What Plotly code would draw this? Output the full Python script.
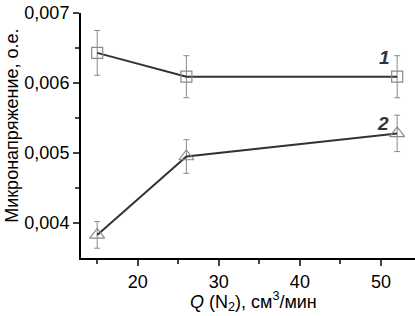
import plotly.graph_objects as go

q = [15, 26, 52]
s1 = [0.00643, 0.00609, 0.00609]
s1_err = [0.00032, 0.00030, 0.00030]
s2 = [0.00383, 0.00495, 0.00528]
s2_err = [0.00019, 0.00024, 0.00026]
labels = ["1", "2"]
label_x = [50.4, 50.2]
label_y = [0.00637, 0.00542]

font = "Liberation Sans, Arial, sans-serif"
fig = go.Figure()
fig.add_trace(go.Scatter(
    x=q, y=s1, mode="lines+markers",
    line=dict(color="#333333", width=2),
    marker=dict(symbol="square-open", size=11, color="#8a8a8a", line=dict(width=1.2)),
    error_y=dict(type="data", array=s1_err, color="#8a8a8a", thickness=1, width=3),
    showlegend=False))
fig.add_trace(go.Scatter(
    x=q, y=s2, mode="lines+markers",
    line=dict(color="#333333", width=2),
    marker=dict(symbol="triangle-up-open", size=13, color="#8a8a8a", line=dict(width=1.2)),
    error_y=dict(type="data", array=s2_err, color="#8a8a8a", thickness=1, width=3),
    showlegend=False))
for t, xx, yy in zip(labels, label_x, label_y):
    fig.add_annotation(x=xx, y=yy, text="<b><i>" + t + "</i></b>", showarrow=False,
                       font=dict(size=19, color="#333333", family=font))

fig.add_annotation(xref="paper", yref="paper", x=0.515, y=-0.178, xanchor="center", yanchor="middle",
                   text="<i>Q</i> (N<sub>2</sub>), см<sup>3</sup>/мин", showarrow=False,
                   font=dict(size=18, color="black", family=font))
fig.add_annotation(xref="paper", yref="paper", x=-0.207, y=0.539, xanchor="center", yanchor="middle",
                   text="Микронапряжение, о.е.", textangle=-90, showarrow=False,
                   font=dict(size=18, color="black", family=font))

fig.update_layout(
    width=415, height=316,
    margin=dict(l=81, r=0, t=13, b=58),
    paper_bgcolor="white", plot_bgcolor="white",
    separators=", ",
    font=dict(family=font, color="black"),
    xaxis=dict(range=[13, 54.2], tickvals=[20, 30, 40, 50], showgrid=False, zeroline=False,
               automargin=False,
               showline=True, linecolor="black", linewidth=2, ticks="outside", ticklen=6,
               tickwidth=2, tickfont=dict(size=18),
               minor=dict(tickvals=[15, 25, 35, 45], ticks="outside", ticklen=4, tickwidth=2)),
    yaxis=dict(range=[0.0035, 0.007], tickvals=[0.004, 0.005, 0.006, 0.007], tickformat=".3f",
               showgrid=False, zeroline=False, automargin=False,
               showline=True, linecolor="black", linewidth=2, ticks="outside", ticklen=6,
               tickwidth=2, tickfont=dict(size=18),
               minor=dict(tickvals=[0.0045, 0.0055, 0.0065], ticks="outside", ticklen=4, tickwidth=2)),
)
fig.write_html("out.html", config={"displayModeBar": False},
               post_script="document.body.style.margin='0';document.body.style.overflow='hidden';")
